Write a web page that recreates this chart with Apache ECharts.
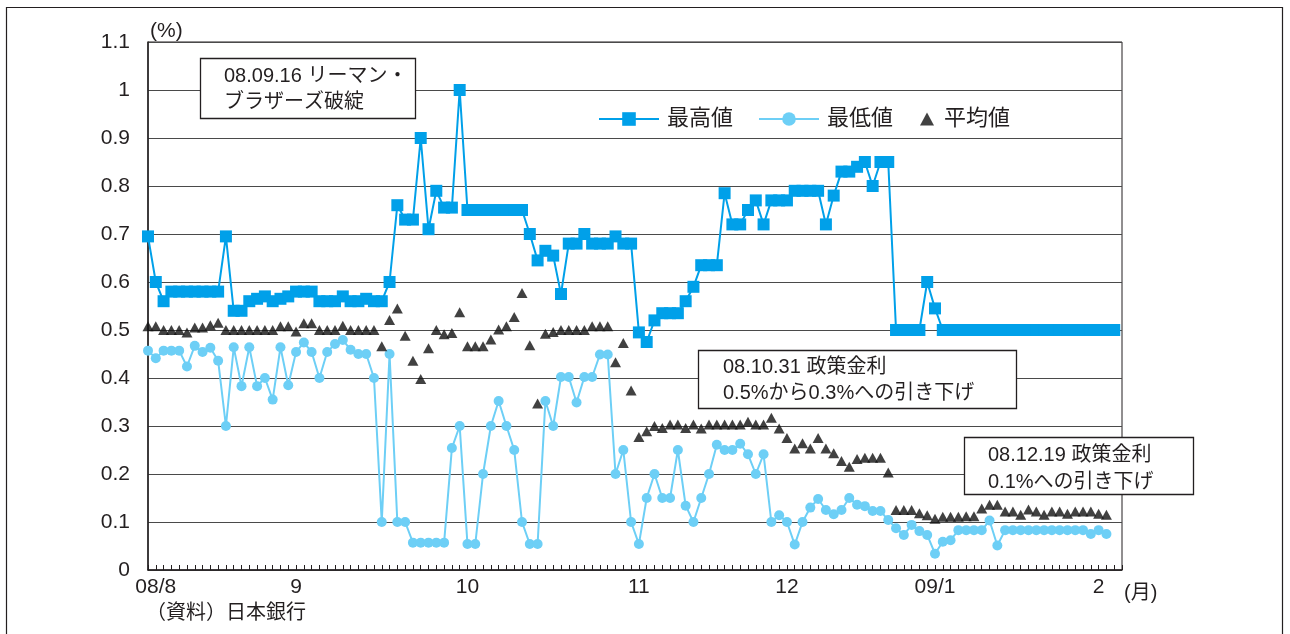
<!DOCTYPE html>
<html><head><meta charset="utf-8">
<script src="https://cdn.jsdelivr.net/npm/echarts@6/dist/echarts.min.js"></script>
<style>html,body{margin:0;padding:0;background:#fff}#c{width:1290px;height:634px}</style>
</head><body><div id="c"></div>
<script>
// ---- data (business days, Aug 2008 - Feb 2009) ----
const monthLabels = ['08/8', '9', '10', '11', '12', '09/1', '2'];
const monthLabelIndex = [1, 19, 41, 63, 82, 101, 122];
const categoryCount = 126;

const maxValues = [
  0.695,0.60,0.56,0.58,0.58,0.58,0.58,0.58,0.58,0.58,
  0.695,0.54,0.54,0.56,0.565,0.57,0.56,0.565,0.57,0.58,
  0.58,0.58,0.56,0.56,0.56,0.57,0.56,0.56,0.565,0.56,
  0.56,0.60,0.76,0.73,0.73,0.90,0.71,0.79,0.755,0.755,
  1.00,0.75,0.75,0.75,0.75,0.75,0.75,0.75,0.75,0.70,
  0.645,0.665,0.655,0.575,0.68,0.68,0.70,0.68,0.68,0.68,
  0.695,0.68,0.68,0.495,0.475,0.52,0.535,0.535,0.535,0.56,
  0.59,0.635,0.635,0.635,0.785,0.72,0.72,0.75,0.77,0.72,
  0.77,0.77,0.77,0.79,0.79,0.79,0.79,0.72,0.78,0.83,
  0.83,0.84,0.85,0.80,0.85,0.85,0.50,0.50,0.50,0.50,
  0.60,0.545,0.50,0.50,0.50,0.50,0.50,0.50,0.50,0.50,
  0.50,0.50,0.50,0.50,0.50,0.50,0.50,0.50,0.50,0.50,
  0.50,0.50,0.50,0.50,0.50
];
const minValues = [
  0.457,0.441,0.457,0.457,0.457,0.424,0.467,0.454,0.463,0.436,
  0.30,0.464,0.383,0.464,0.383,0.40,0.355,0.464,0.385,0.454,
  0.474,0.454,0.40,0.454,0.471,0.479,0.459,0.45,0.45,0.40,
  0.10,0.45,0.10,0.10,0.057,0.057,0.057,0.057,0.057,0.254,
  0.30,0.054,0.054,0.20,0.30,0.352,0.30,0.25,0.10,0.054,
  0.054,0.352,0.30,0.402,0.402,0.349,0.402,0.402,0.449,0.449,
  0.20,0.25,0.10,0.054,0.15,0.20,0.15,0.15,0.25,0.134,
  0.10,0.15,0.20,0.261,0.25,0.25,0.263,0.241,0.20,0.241,
  0.10,0.114,0.10,0.053,0.10,0.13,0.148,0.125,0.116,0.125,
  0.15,0.136,0.133,0.123,0.123,0.104,0.087,0.073,0.094,0.081,
  0.073,0.034,0.059,0.062,0.083,0.083,0.083,0.083,0.103,0.051,
  0.083,0.083,0.083,0.083,0.083,0.083,0.083,0.083,0.083,0.083,
  0.083,0.075,0.083,0.075
];
const avgValues = [
  0.508,0.508,0.50,0.50,0.50,0.495,0.505,0.505,0.51,0.515,
  0.50,0.50,0.50,0.50,0.50,0.50,0.50,0.508,0.508,0.497,
  0.514,0.514,0.50,0.50,0.50,0.509,0.50,0.50,0.50,0.50,
  0.466,0.521,0.545,0.488,0.436,0.398,0.462,0.50,0.491,0.494,
  0.537,0.466,0.466,0.466,0.48,0.501,0.508,0.527,0.577,0.468,
  0.347,0.492,0.496,0.50,0.50,0.50,0.50,0.508,0.508,0.508,
  0.433,0.473,0.374,0.277,0.289,0.30,0.296,0.303,0.303,0.296,
  0.303,0.295,0.303,0.303,0.303,0.303,0.303,0.309,0.303,0.303,
  0.317,0.295,0.275,0.253,0.264,0.253,0.275,0.253,0.243,0.227,
  0.215,0.231,0.234,0.234,0.234,0.203,0.125,0.125,0.125,0.118,
  0.114,0.107,0.111,0.111,0.111,0.112,0.112,0.128,0.136,0.136,
  0.122,0.122,0.115,0.126,0.122,0.115,0.122,0.122,0.117,0.122,
  0.122,0.122,0.117,0.115
];
const seriesNames = ['最高値', '最低値', '平均値'];
const notes = [
  ['08.09.16 リーマン・', 'ブラザーズ破綻'],
  ['08.10.31 政策金利', '0.5%から0.3%への引き下げ'],
  ['08.12.19 政策金利', '0.1%への引き下げ']
];

// ---- chart ----
const FONT = '"Liberation Sans", "Noto Sans CJK JP", sans-serif';
const INK = '#231f20';
const categories = Array.from({length: categoryCount}, (_, i) => String(i));
const labelFor = i => { const k = monthLabelIndex.indexOf(i); return k >= 0 ? monthLabels[k] : ''; };

function textEl(text, x, y, size) {
  return {type: 'text', x: x, y: y, z: 101, silent: true,
    style: {text: text, fontSize: size, fontFamily: FONT, fill: INK, verticalAlign: 'middle', align: 'left'}};
}
function boxEl(x, y, w, h) {
  return {type: 'rect', z: 100, silent: true, shape: {x: x, y: y, width: w, height: h},
    style: {fill: '#fff', stroke: INK, lineWidth: 1.3}};
}

const chart = echarts.init(document.getElementById('c'), null, {renderer: 'canvas'});
chart.setOption({
  animation: false,
  backgroundColor: '#fff',
  grid: {left: 148, right: 168, top: 42, bottom: 64, show: true, borderColor: INK, borderWidth: 1, backgroundColor: 'transparent'},
  xAxis: {
    type: 'category', data: categories, boundaryGap: false,
    axisLine: {lineStyle: {color: INK, width: 1.5}},
    axisTick: {show: true, inside: true, length: 5, interval: 0, lineStyle: {color: INK, width: 1}},
    axisLabel: {interval: 0, margin: 7, color: INK, fontSize: 21, fontFamily: FONT, formatter: (v, i) => labelFor(i)},
    splitLine: {show: false}
  },
  yAxis: {
    type: 'value', min: 0, max: 1.1, interval: 0.1,
    axisLine: {show: true, lineStyle: {color: INK, width: 1.5}},
    axisTick: {show: false},
    axisLabel: {margin: 18, color: INK, fontSize: 21, fontFamily: FONT, formatter: v => String(parseFloat(v.toFixed(1)))},
    splitLine: {lineStyle: {color: '#4a4a4a', width: 1}}
  },
  legend: [
    {data: [seriesNames[0], seriesNames[1]], left: 598, top: 108, padding: 0, itemWidth: 60, itemHeight: 17, itemGap: 25,
     textStyle: {color: INK, fontSize: 22, fontFamily: FONT, padding: [0, 0, 0, 3]}},
    {data: [seriesNames[2]], left: 920, top: 108, padding: 0, itemWidth: 14, itemHeight: 13,
     textStyle: {color: INK, fontSize: 22, fontFamily: FONT, padding: [0, 0, 0, 5]}}
  ],
  series: [
    {name: seriesNames[0], type: 'line', data: maxValues, symbol: 'rect', symbolSize: 12, showAllSymbol: true,
     itemStyle: {color: '#00a0e9'}, lineStyle: {color: '#00a0e9', width: 2}, z: 3},
    {name: seriesNames[1], type: 'line', data: minValues, symbol: 'circle', symbolSize: 10, showAllSymbol: true,
     itemStyle: {color: '#6dcff6'}, lineStyle: {color: '#6dcff6', width: 2}, z: 2},
    {name: seriesNames[2], type: 'scatter', data: avgValues, symbol: 'triangle', symbolSize: [11, 10],
     itemStyle: {color: '#111'}, z: 4}
  ],
  graphic: [
    {type: 'rect', z: 0, silent: true, shape: {x: 6.5, y: 7.5, width: 1276, height: 640},
     style: {fill: 'none', stroke: INK, lineWidth: 1.2}},
    textEl('(%)', 150, 31, 21),
    textEl('(月)', 1124, 593, 20),
    textEl('（資料）日本銀行', 146, 613, 20),
    boxEl(200.5, 58.5, 215, 60),
    textEl(notes[0][0], 224, 76, 20),
    textEl(notes[0][1], 224, 102, 20),
    boxEl(698.5, 350.5, 318, 58),
    textEl(notes[1][0], 723, 367, 20),
    textEl(notes[1][1], 723, 393, 20),
    boxEl(964.5, 437.5, 229, 57),
    textEl(notes[2][0], 988, 455, 20),
    textEl(notes[2][1], 988, 482, 20)
  ]
});
</script></body></html>
